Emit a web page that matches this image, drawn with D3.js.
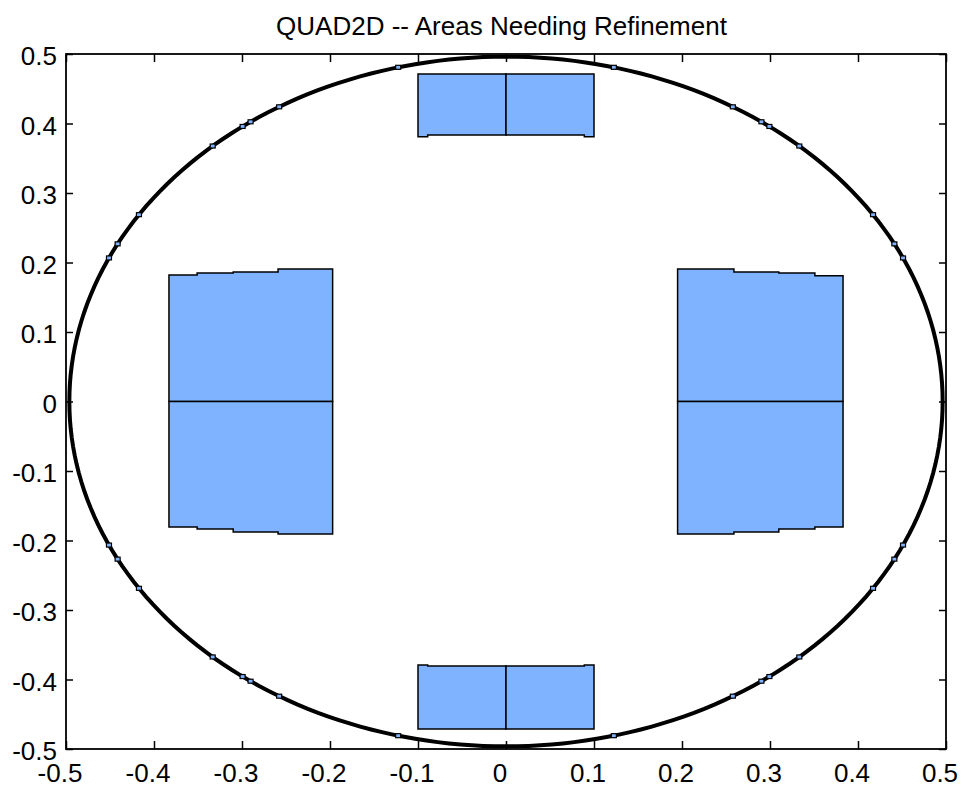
<!DOCTYPE html>
<html>
<head>
<meta charset="utf-8">
<script src="https://cdn.jsdelivr.net/npm/d3@7"></script>
<style>
  html, body { margin: 0; padding: 0; background: #ffffff; }
  svg { display: block; }
  text { font-family: "Liberation Sans", Arial, Helvetica, sans-serif; fill: #000; }
</style>
</head>
<body>
<svg id="chart" width="964" height="787"></svg>
<script>
// ---------------- data ----------------
const titleText = "QUAD2D -- Areas Needing Refinement";
const xTickValues = [-0.5, -0.4, -0.3, -0.2, -0.1, 0, 0.1, 0.2, 0.3, 0.4, 0.5];
const xTickLabels = ["-0.5", "-0.4", "-0.3", "-0.2", "-0.1", "0", "0.1", "0.2", "0.3", "0.4", "0.5"];
const yTickValues = [0.5, 0.4, 0.3, 0.2, 0.1, 0, -0.1, -0.2, -0.3, -0.4, -0.5];
const yTickLabels = ["0.5", "0.4", "0.3", "0.2", "0.1", "0", "-0.1", "-0.2", "-0.3", "-0.4", "-0.5"];
const xDomain = [-0.5, 0.5];
const yDomain = [-0.5, 0.5];

// domain boundary (disk radius) and the tiny refined cells visible along it (angles, first quadrant, deg)
const boundaryRadius = 0.5;
const boundaryCellAngles = [24.6, 27.2, 32.8, 47.8, 52.9, 54.2, 58.7, 75.7];

// cells flagged for refinement (polygon vertices in data units)
const topCells = [
  [[-0.1, 0.4712], [0, 0.4712], [0, 0.3835], [-0.089, 0.3835], [-0.089, 0.381], [-0.1, 0.381]],
  [[0, 0.4712], [0.1, 0.4712], [0.1, 0.381], [0.089, 0.381], [0.089, 0.3835], [0, 0.3835]]
];
const bottomCells = [
  [[-0.1, -0.4712], [0, -0.4712], [0, -0.3805], [-0.089, -0.3805], [-0.089, -0.379], [-0.1, -0.379]],
  [[0, -0.4712], [0.1, -0.4712], [0.1, -0.379], [0.089, -0.379], [0.089, -0.3805], [0, -0.3805]]
];
const leftCells = [
  [[-0.383, 0], [-0.383, 0.182], [-0.351, 0.182], [-0.351, 0.185], [-0.310, 0.185], [-0.310, 0.1865],
   [-0.259, 0.1865], [-0.259, 0.1905], [-0.197, 0.1905], [-0.197, 0]],
  [[-0.383, 0], [-0.383, -0.1806], [-0.351, -0.1806], [-0.351, -0.1835], [-0.310, -0.1835], [-0.310, -0.1878],
   [-0.259, -0.1878], [-0.259, -0.1906], [-0.197, -0.1906], [-0.197, 0]]
];
const rightCells = [
  [[0.195, 0], [0.195, 0.1906], [0.259, 0.1906], [0.259, 0.1865], [0.310, 0.1865], [0.310, 0.185],
   [0.351, 0.185], [0.351, 0.181], [0.383, 0.181], [0.383, 0]],
  [[0.195, 0], [0.195, -0.1906], [0.259, -0.1906], [0.259, -0.1878], [0.310, -0.1878], [0.310, -0.1835],
   [0.351, -0.1835], [0.351, -0.1806], [0.383, -0.1806], [0.383, 0]]
];

// ---------------- layout ----------------
const svg = d3.select("#chart");
const plot = { left: 66, right: 946, top: 54, bottom: 749 };
const x = d3.scaleLinear().domain(xDomain).range([plot.left, plot.right]);
const y = d3.scaleLinear().domain(yDomain).range([plot.bottom, plot.top]);
const fillBlue = "#80b3ff";

// refinement cells
const line = d3.line().x(d => x(d[0])).y(d => y(d[1]));
const allCells = [].concat(topCells, bottomCells, leftCells, rightCells);
svg.append("g").selectAll("path").data(allCells).join("path")
  .attr("d", d => line(d) + "Z")
  .attr("fill", fillBlue)
  .attr("stroke", "#000")
  .attr("stroke-width", 1.5)
  .attr("stroke-linejoin", "miter");

// boundary ring of small cells
const ringR = boundaryRadius - 0.0038;
const ringPts = d3.range(0, 360, 1.5).map(a => {
  const t = a * Math.PI / 180;
  return [ringR * Math.cos(t), ringR * Math.sin(t)];
});
svg.append("path")
  .attr("d", line(ringPts) + "Z")
  .attr("fill", "none")
  .attr("stroke", "#000")
  .attr("stroke-width", 4);

// small blue cells along the boundary (mirrored into all four quadrants)
const marks = [];
boundaryCellAngles.forEach(a => {
  [a, 180 - a, 180 + a, 360 - a].forEach(b => marks.push(b));
});
svg.append("g").selectAll("rect").data(marks).join("rect")
  .attr("x", d => x(ringR * Math.cos(d * Math.PI / 180)) - 2.5)
  .attr("y", d => y(ringR * Math.sin(d * Math.PI / 180)) - 2)
  .attr("width", 5)
  .attr("height", 4)
  .attr("fill", fillBlue)
  .attr("stroke", "#000")
  .attr("stroke-width", 1.2);

// axes box
const axesG = svg.append("g");
axesG.append("rect")
  .attr("x", plot.left).attr("y", plot.top)
  .attr("width", plot.right - plot.left).attr("height", plot.bottom - plot.top)
  .attr("fill", "none").attr("stroke", "#000").attr("stroke-width", 1.8);

// ticks (inward, all four sides) using d3 axes
const tickLen = 8;
const xb = d3.axisTop(x).tickValues(xTickValues).tickSize(tickLen).tickFormat("");
const xt = d3.axisBottom(x).tickValues(xTickValues).tickSize(tickLen).tickFormat("");
const yl = d3.axisRight(y).tickValues(yTickValues).tickSize(tickLen - 1).tickFormat("");
const yr = d3.axisLeft(y).tickValues(yTickValues).tickSize(tickLen - 1).tickFormat("");
[[xb, `translate(0,${plot.bottom})`], [xt, `translate(0,${plot.top})`],
 [yl, `translate(${plot.left},0)`], [yr, `translate(${plot.right},0)`]].forEach(([ax, tr]) => {
  const g = axesG.append("g").attr("transform", tr).call(ax);
  g.select(".domain").remove();
  g.selectAll("line").attr("stroke", "#000").attr("stroke-width", 1.5);
});

// tick labels
svg.append("g").selectAll("text").data(xTickValues).join("text")
  .attr("x", d => x(d) - 6)
  .attr("y", 782)
  .attr("text-anchor", "middle")
  .attr("font-size", 26)
  .text((d, i) => xTickLabels[i]);

svg.append("g").selectAll("text").data(yTickValues).join("text")
  .attr("x", 57)
  .attr("y", d => y(d) + 11)
  .attr("text-anchor", "end")
  .attr("font-size", 26)
  .text((d, i) => yTickLabels[i]);

// title
svg.append("text")
  .attr("x", 501.5)
  .attr("y", 35)
  .attr("text-anchor", "middle")
  .attr("font-size", 26)
  .text(titleText);
</script>
</body>
</html>
